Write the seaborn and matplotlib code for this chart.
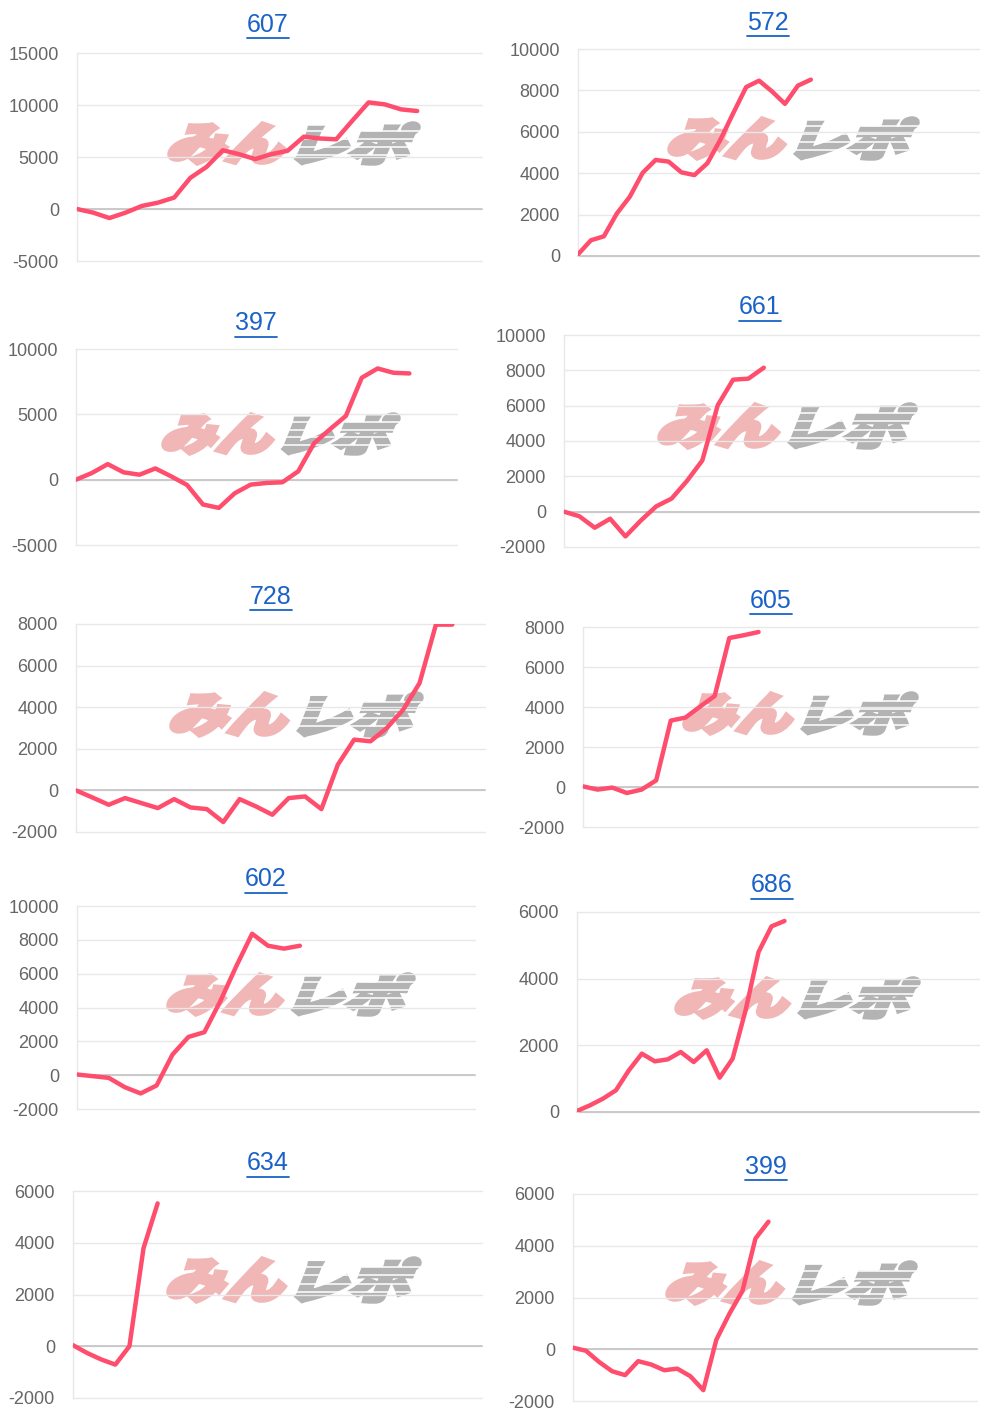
import numpy as np
import pandas as pd
import matplotlib
matplotlib.use("Agg")
import matplotlib.pyplot as plt
import seaborn as sns
from matplotlib.textpath import TextPath
from matplotlib.patches import PathPatch
from matplotlib.font_manager import FontProperties
from matplotlib.transforms import Affine2D
from matplotlib.lines import Line2D

sns.set_style("white")
plt.rcParams["font.family"] = ["Liberation Sans", "DejaVu Sans"]
plt.rcParams["axes.unicode_minus"] = False

W, H = 1000, 1423

# ---------------------------------------------------------------- DATA
titles = ["607", "572", "397", "661", "728", "605", "602", "686", "634", "399"]

v607 = [0, -350, -870, -350, 290, 610, 1100, 3000, 4050, 5650, 5270, 4800,
        5270, 5600, 6950, 6780, 6700, 8500, 10250, 10060, 9580, 9420]
v572 = [80, 760, 950, 2050, 2860, 4020, 4640, 4560, 4040, 3910, 4480, 5610,
        6900, 8160, 8470, 7950, 7350, 8230, 8520]
v397 = [0, 510, 1190, 560, 380, 860, 250, -410, -1900, -2160, -1040, -380,
        -250, -200, 640, 2790, 3860, 4880, 7800, 8510, 8180, 8130]
v661 = [0, -260, -910, -400, -1400, -500, 300, 740, 1740, 2900, 6020, 7470,
        7530, 8150]
v728 = [0, -340, -690, -370, -610, -850, -420, -820, -900, -1520, -420, -770,
        -1170, -370, -290, -900, 1230, 2440, 2360, 3000, 3880, 5160, 7970, 7970]
v605 = [30, -130, -30, -300, -130, 330, 3320, 3470, 4020, 4550, 7450, 7590, 7750]
v602 = [40, -60, -160, -710, -1080, -610, 1220, 2260, 2540, 4370, 6430, 8360,
        7650, 7480, 7650]
v686 = [30, 200, 400, 650, 1250, 1750, 1520, 1580, 1800, 1500, 1850, 1030,
        1600, 3050, 4800, 5570, 5730]
v634 = [40, -260, -510, -710, 0, 3790, 5520]
v399 = [60, -60, -490, -850, -1000, -460, -590, -810, -750, -1040, -1580, 370,
        1370, 2250, 4280, 4930]

series = [v607, v572, v397, v661, v728, v605, v602, v686, v634, v399]

# number of day slots on each x axis
x_slots = [25, 31, 24, 27, 25, 27, 25, 31, 29, 31]

y_ticks = [
    [-5000, 0, 5000, 10000, 15000],
    [0, 2000, 4000, 6000, 8000, 10000],
    [-5000, 0, 5000, 10000],
    [-2000, 0, 2000, 4000, 6000, 8000, 10000],
    [-2000, 0, 2000, 4000, 6000, 8000],
    [-2000, 0, 2000, 4000, 6000, 8000],
    [-2000, 0, 2000, 4000, 6000, 8000, 10000],
    [0, 2000, 4000, 6000],
    [-2000, 0, 2000, 4000, 6000],
    [-2000, 0, 2000, 4000, 6000],
]

# ---------------------------------------------------------------- LAYOUT (pixels, y down)
boxes = [(77, 53, 482, 261), (578, 49, 979, 256),
         (76, 349, 457, 545), (564, 335, 979, 547),
         (76, 624, 485, 832), (583, 627, 978, 827),
         (77, 906, 475, 1109), (577, 912, 979, 1112),
         (73, 1191, 482, 1398), (573, 1194, 977, 1401)]
title_xy = [(268, 31.5), (768, 29.5), (256, 330.5), (760, 314.5),
            (271, 604.5), (771, 607.5), (266, 886.5), (772, 892.5),
            (268, 1170.5), (766, 1173.5)]
logo_boxes = [(168, 122, 420, 165), (668, 117, 919, 160),
              (162, 413, 400, 455), (658, 403, 917, 449),
              (170, 692, 423, 737), (683, 692, 918, 735),
              (167, 973, 415, 1016), (675, 977, 920, 1019),
              (167, 1257, 421, 1303), (666, 1261, 917, 1305)]

LINE = "#ff4d6d"
GRID = "#e8e8e8"
ZERO = "#c6c6c6"
TICK = "#666666"
LINK = "#1a62c7"
PINK = "#f1b6b6"
GREY = "#b3b3b3"

fig = plt.figure(figsize=(W / 100, H / 100), dpi=100)
fig.patch.set_facecolor("white")
px = Affine2D().scale(1 / W, 1 / H) + fig.transFigure

fp_logo = FontProperties(family=["Noto Sans CJK JP"], weight="black")


def logo_part(text, x0, y0, x1, y1, color, stripes=False):
    tp = TextPath((0, 0), text, size=100, prop=fp_logo)
    skew = Affine2D().skew_deg(16, 0)
    ext = tp.get_extents(skew)
    sx = (x1 - x0 - 3) / ext.width
    sy = (y1 - y0 - 3) / ext.height
    t = (skew + Affine2D().translate(-ext.x0, -ext.y0).scale(sx, sy)
         .translate(x0 + 1.5, H - y1 + 1.5) + px)
    fig.add_artist(PathPatch(tp, transform=t, fc=color, ec=color,
                             linewidth=3.2, joinstyle="miter", zorder=-1))
    if stripes:
        # speed-line cuts through the grey half of the logo
        for f in (0.22, 0.40, 0.58, 0.76):
            yy = H - (y0 + f * (y1 - y0))
            fig.add_artist(Line2D([x0 / W, (x1 + 2) / W], [yy / H, yy / H],
                                  transform=fig.transFigure, color="white",
                                  linewidth=1.1, zorder=-0.5))


titles_txt = []
for i, vals in enumerate(series):
    l, t, r, b = boxes[i]
    ax = fig.add_axes([l / W, 1 - b / H, (r - l) / W, (b - t) / H])
    ax.set_facecolor("none")
    df = pd.DataFrame({"day": np.arange(len(vals)), "value": vals})
    sns.lineplot(data=df, x="day", y="value", ax=ax, color=LINE,
                 linewidth=3.2, zorder=4)
    ax.set_xlim(0, x_slots[i])
    ax.set_ylim(y_ticks[i][0], y_ticks[i][-1])
    ax.set_yticks(y_ticks[i])
    ax.set_xticks([])
    ax.set_xlabel(""); ax.set_ylabel("")
    for s in ["top", "right", "bottom"]:
        ax.spines[s].set_visible(False)
    ax.spines["left"].set_color(GRID)
    ax.spines["left"].set_linewidth(1)
    ax.yaxis.grid(True, color=GRID, linewidth=1)
    for gl in ax.get_ygridlines():
        gl.set_clip_on(False)
    ax.axhline(0, color=ZERO, linewidth=1.3, zorder=2, clip_on=False)
    ax.tick_params(axis="y", length=10, width=1, color=GRID, pad=3,
                   labelsize=13, labelcolor=TICK)

    # watermark logo
    x0, y0, x1, y1 = logo_boxes[i]
    w = x1 - x0
    logo_part("みん", x0, y0, x0 + 0.47 * w, y1, PINK)
    logo_part("レポ", x0 + 0.505 * w, y0, x1, y1, GREY, stripes=True)

    tx, ty = title_xy[i]
    titles_txt.append(fig.text(tx / W, 1 - ty / H, titles[i], ha="center",
                               va="baseline", fontsize=18, color=LINK))

# underline the titles like links
fig.canvas.draw()
rend = fig.canvas.get_renderer()
for txt in titles_txt:
    bb = txt.get_window_extent(rend)
    yb = bb.y0 - 1
    fig.add_artist(Line2D([bb.x0 / W, bb.x1 / W], [yb / H, yb / H],
                          transform=fig.transFigure, color=LINK, linewidth=1.3))

fig.savefig("out.png", dpi=100, facecolor="white")
